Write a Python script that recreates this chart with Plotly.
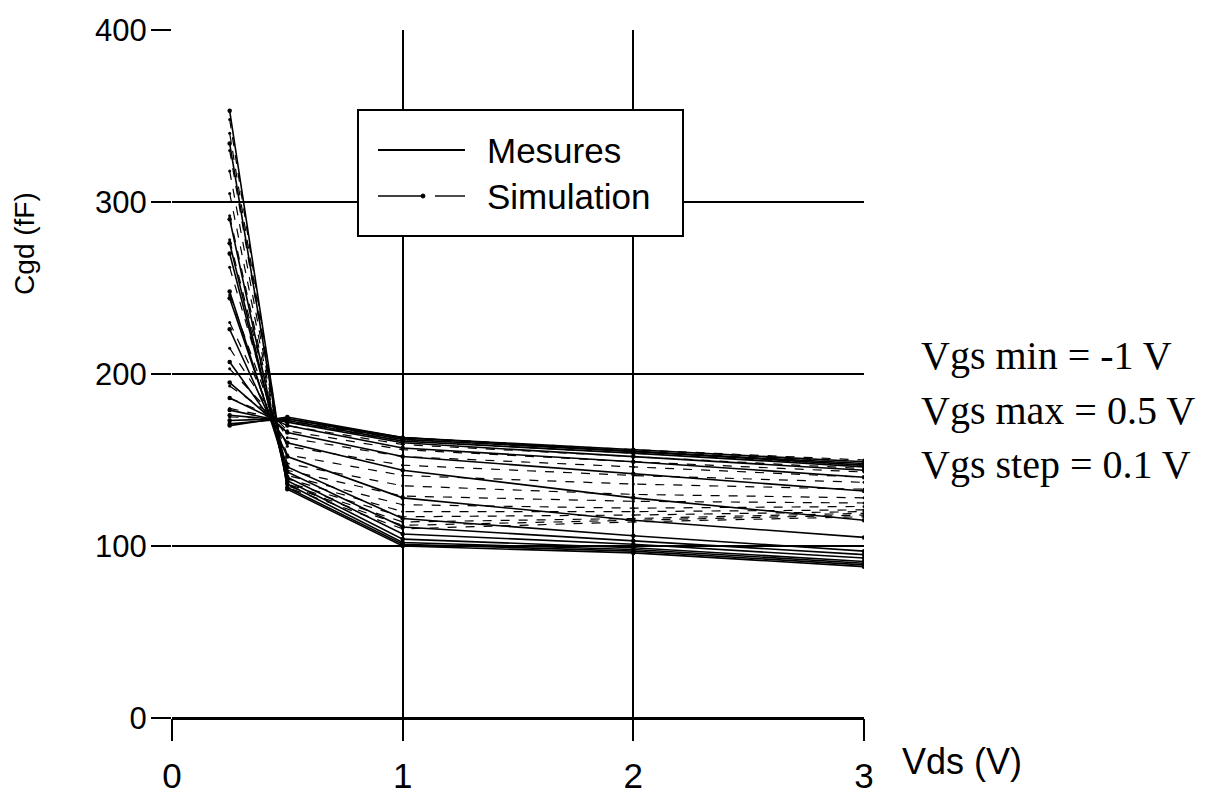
import plotly.graph_objects as go

# Drain-source bias points (V)
vds = [0.25, 0.5, 1, 2, 3]

# Gate bias sweep: -1 V to 0.5 V in 0.1 V steps
vgs = [round(-1.0 + 0.1 * i, 1) for i in range(16)]

# Measured Cgd (fF), one row per Vgs
cgd_mesures = [
    [170, 175, 163, 156, 149],
    [171, 174, 163, 155, 148],
    [173, 174, 162, 155, 147],
    [176, 173, 161, 154, 146],
    [179, 172, 160, 152, 144],
    [186, 170, 157, 149, 140],
    [195, 166, 152, 142, 132],
    [207, 160, 144, 128, 115],
    [226, 152, 128, 115, 105],
    [244, 146, 116, 106, 97],
    [248, 143, 111, 103, 95],
    [270, 140, 107, 101, 93],
    [276, 138, 104, 99, 91],
    [290, 136, 102, 98, 90],
    [334, 134, 101, 97, 89],
    [353, 133, 100, 96, 88],
]

# Simulated Cgd (fF), one row per Vgs
cgd_simulation = [
    [175, 174, 163, 156, 150],
    [180, 173, 162, 155, 149],
    [186, 172, 161, 154, 147],
    [193, 170, 159, 152, 145],
    [203, 167, 156, 149, 143],
    [215, 163, 152, 146, 140],
    [230, 158, 147, 141, 137],
    [246, 153, 141, 136, 133],
    [262, 148, 135, 130, 128],
    [278, 144, 129, 126, 125],
    [292, 141, 124, 122, 123],
    [305, 139, 120, 120, 121],
    [318, 137, 117, 118, 120],
    [330, 136, 114, 116, 119],
    [340, 135, 112, 115, 118],
    [348, 134, 110, 114, 117],
]

fig = go.Figure()

for i, row in enumerate(cgd_mesures):
    fig.add_trace(go.Scatter(
        x=vds, y=row, mode="lines+markers",
        name="Mesures", showlegend=False,
        line=dict(color="black", width=1.6),
        marker=dict(color="black", size=4.5),
    ))

for i, row in enumerate(cgd_simulation):
    fig.add_trace(go.Scatter(
        x=vds, y=row, mode="lines+markers",
        name="Simulation", showlegend=False,
        line=dict(color="black", width=1.2, dash="dash"),
        marker=dict(color="black", size=3),
    ))

sans = "Arial, Liberation Sans, sans-serif"

fig.update_xaxes(
    range=[0, 3], tickvals=[0, 1, 2, 3], automargin=False,
    showgrid=True, gridcolor="black", gridwidth=1.6,
    zeroline=False, showline=False,
    ticks="outside", ticklen=22, tickwidth=1.5, tickcolor="black",
    tickfont=dict(family=sans, size=35, color="black"), ticklabelstandoff=5,
)
fig.update_yaxes(
    range=[0, 400], tickvals=[0, 100, 200, 300, 400], automargin=False,
    showgrid=True, gridcolor="black", gridwidth=1.6,
    zeroline=True, zerolinecolor="black", zerolinewidth=2.5,
    showline=False,
    ticks="outside", ticklen=20, tickwidth=1.5, tickcolor="black",
    tickfont=dict(family=sans, size=31, color="black"), ticklabelstandoff=-2,
)

fig.add_annotation(
    text="Cgd (fF)", textangle=-90, showarrow=False,
    xref="paper", yref="paper", x=-0.213, y=0.69,
    xanchor="center", yanchor="middle",
    font=dict(family=sans, size=28, color="black"),
)
fig.add_annotation(
    text="Vds (V)", showarrow=False,
    xref="paper", yref="paper", x=1.052, y=-0.03,
    xanchor="left", yanchor="top",
    font=dict(family=sans, size=36, color="black"),
)

serif = dict(family="Liberation Serif, Times New Roman, serif", size=40, color="black")
for k, txt in enumerate(["Vgs min = -1 V", "Vgs max = 0.5 V", "Vgs step = 0.1 V"]):
    fig.add_annotation(
        text=txt, showarrow=False,
        xref="paper", yref="paper", x=1.08, y=(718 - 356 - 54 * k) / 688,
        xanchor="left", yanchor="middle", font=serif,
    )

# Legend box drawn by hand so the line samples keep their long form
def px_x(p):
    return (p - 172) / 692


def px_y(p):
    return (718 - p) / 688


fig.add_shape(type="rect", xref="paper", yref="paper",
              x0=px_x(358), x1=px_x(683), y0=px_y(236), y1=px_y(110),
              line=dict(color="black", width=2), fillcolor="white", layer="above")
fig.add_shape(type="line", xref="paper", yref="paper",
              x0=px_x(378), x1=px_x(465), y0=px_y(150), y1=px_y(150),
              line=dict(color="black", width=1.8), layer="above")
fig.add_shape(type="line", xref="paper", yref="paper",
              x0=px_x(378), x1=px_x(423), y0=px_y(196), y1=px_y(196),
              line=dict(color="black", width=1.4), layer="above")
fig.add_shape(type="line", xref="paper", yref="paper",
              x0=px_x(435), x1=px_x(465), y0=px_y(196), y1=px_y(196),
              line=dict(color="black", width=1.4), layer="above")
fig.add_shape(type="circle", xref="paper", yref="paper",
              x0=px_x(421), x1=px_x(425), y0=px_y(198), y1=px_y(194),
              line=dict(color="black", width=1), fillcolor="black", layer="above")
for txt, yp in [("Mesures", 150), ("Simulation", 196)]:
    fig.add_annotation(
        text=txt, showarrow=False, xref="paper", yref="paper",
        x=px_x(485), y=px_y(yp), xanchor="left", yanchor="middle",
        font=dict(family=sans, size=35, color="black"),
    )

fig.update_layout(
    width=1227, height=797,
    margin=dict(l=172, r=363, t=30, b=79, autoexpand=False),
    paper_bgcolor="white", plot_bgcolor="white",
    showlegend=False,
)

fig.write_html("out.html")
